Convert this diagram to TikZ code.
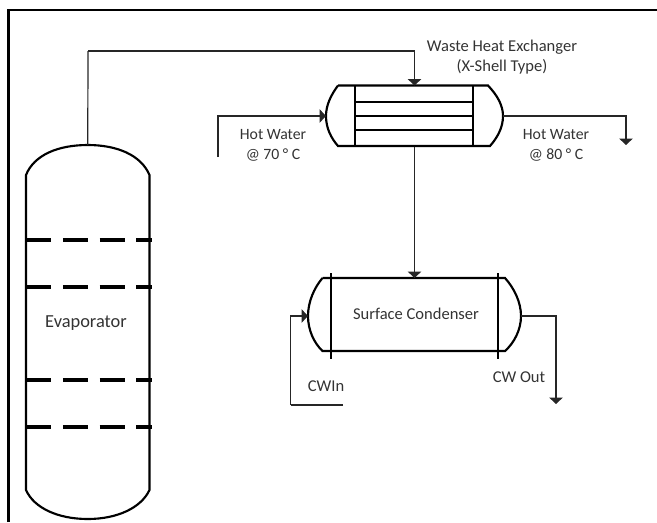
\documentclass[tikz,border=0pt]{standalone}
\usepackage{fontspec}
\setmainfont{Carlito}
\usepackage{tikz}
\usetikzlibrary{arrows.meta,positioning}

\begin{document}
\begin{tikzpicture}[
  x=0.75pt, y=-0.75pt,
  vessel/.style={inner sep=0pt, outer sep=0pt},
  tag/.style={align=center, font=\fontsize{12.4}{15}\selectfont, text=black!80, inner sep=0pt},
  wall/.style={line width=1.6pt},
  tray/.style={dash pattern=on 19pt off 8.6pt},
  tube/.style={line width=1.4pt},
  line/.style={line width=0.9pt, black!85},
  arrow/.style={line width=0.9pt, black!85, -{Triangle[length=4.8pt,width=10pt]}}
]
  \useasboundingbox (0,0) rectangle (657,522);
  \draw[line width=1.6pt] (8.5,522) |- (657,10);

  \node[vessel, minimum width=92.6pt, minimum height=280.5pt] (evap) at (87.75,332) {};
  \node[vessel, minimum width=132.75pt, minimum height=45.75pt] (hx) at (414.5,116) {};
  \node[vessel, minimum width=159.75pt, minimum height=57pt] (cond) at (414.5,316) {};

  \node[tag, font=\fontsize{13.8}{15}\selectfont] (evaptag) at (86,323) {Evaporator};
  \node[tag] (hxtag) at (502,57) {Waste Heat Exchanger\\(X-Shell Type)};
  \node[tag, font=\fontsize{11.8}{15}\selectfont] (hwintag) at (273,145) {Hot Water\\@ 70 ° C};
  \node[tag, font=\fontsize{11.8}{15}\selectfont] (hwouttag) at (556,145) {Hot Water\\@ 80 ° C};
  \node[tag] (condtag) at (416,314) {Surface Condenser};
  \node[tag] (cwintag) at (326,386) {CWIn};
  \node[tag] (cwouttag) at (519,377) {CW Out};

  % evaporator
  \draw[wall] (evap.north west |- 0,175) .. controls (34,155) and (58,145) .. (evap.north)
    .. controls (117,145) and (141,155) .. (evap.north east |- 0,175)
    -- (evap.east |- 0,490) .. controls (141,508) and (117,519) .. (evap.south)
    .. controls (58,519) and (34,508) .. (evap.west |- 0,490) -- cycle;
  \foreach \y/\w in {240/3.4pt,287/2.6pt,380/2.6pt,427/2.6pt}
    \draw[tray, line width=\w] (26,\y) -- (152,\y);

  % heat exchanger
  \draw[wall] (338,85.5) -- (488,85.5) .. controls (497,95) and (503,105) .. (hx.east)
    .. controls (503,128) and (497,138) .. (490,146) -- (338,146)
    .. controls (331,138) and (326,128) .. (hx.west)
    .. controls (326,105) and (331,95) .. (338,85.5);
  \draw[wall] (355,85.5) -- (355,146);
  \draw[wall] (473,85.5) -- (473,146);
  \foreach \y in {101.7,115.7,130}
    \draw[tube] (355,\y) -- (473,\y);

  % condenser
  \draw[wall] (322.5,278) -- (505,278) .. controls (514,288) and (521,302) .. (cond.east)
    .. controls (521,330) and (514,343) .. (505,351) -- (322.5,351)
    .. controls (314,343) and (308,330) .. (cond.west)
    .. controls (308,302) and (314,288) .. (322.5,278);
  \draw[wall] (331,273) -- (331,359);
  \draw[wall] (498,273) -- (498,359);

  \coordinate (topbend) at (88,51);
  \coordinate (hwin) at (218,157);
  \coordinate (hwout) at (626,145);
  \coordinate (cwin) at (343,405);
  \coordinate (cwbend) at (290.5,405);
  \coordinate (cwout) at (556,404);

  \draw[line] (evap.north) -- (topbend);
  \draw[arrow] (topbend) -| (hx.north);
  \draw[arrow] (hwin) |- (hx.west);
  \draw[arrow] (hx.east) -| (hwout);
  \draw[arrow] (hx.south) -- (cond.north);
  \draw[line] (cwin) -- (cwbend);
  \draw[arrow] (cwbend) |- (cond.west);
  \draw[arrow] (cond.east) -| (cwout);
\end{tikzpicture}
\end{document}
